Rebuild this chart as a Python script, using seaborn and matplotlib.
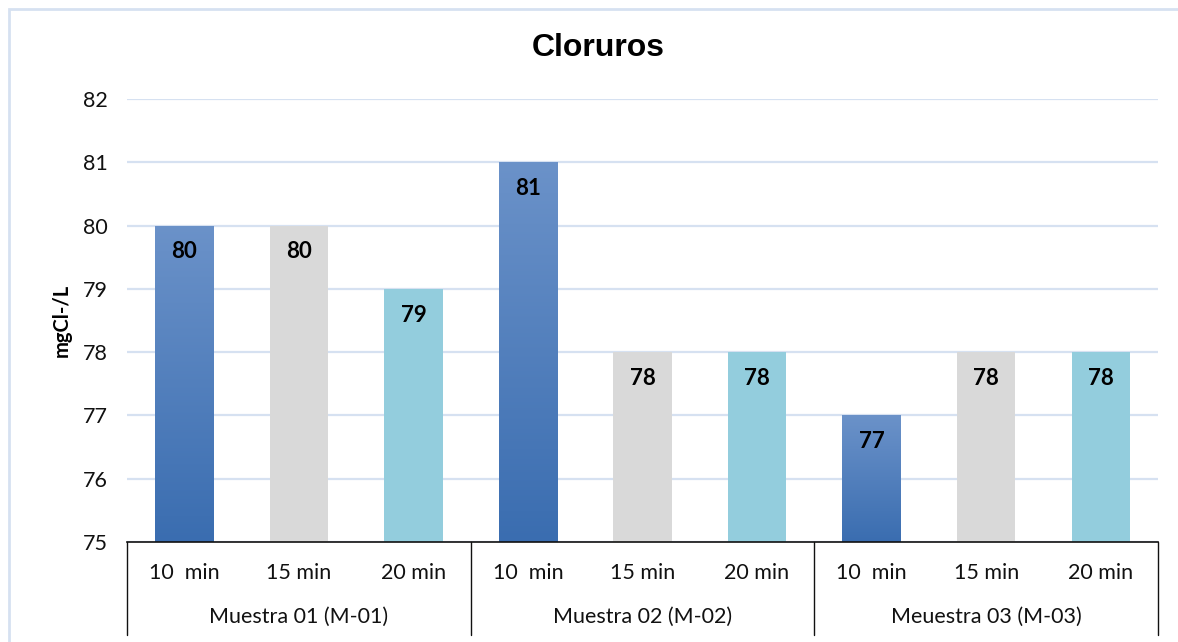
import numpy as np
import pandas as pd
import matplotlib
matplotlib.use("Agg")
import matplotlib.pyplot as plt
from matplotlib.colors import LinearSegmentedColormap
from matplotlib.patches import Rectangle
import seaborn as sns

# Chloride concentration per sample and contact time
muestras = ["Muestra 01 (M-01)", "Muestra 02 (M-02)", "Meuestra 03 (M-03)"]
tiempos = ["10  min", "15 min", "20 min"]
valores_m01 = [80, 80, 79]
valores_m02 = [81, 78, 78]
valores_m03 = [77, 78, 78]
y_ticks = [75, 76, 77, 78, 79, 80, 81, 82]

titulo = "Cloruros"
eje_y = "mgCl-/L"

colores = {"10  min": "#4a7cbd", "15 min": "#d9d9d9", "20 min": "#93cddd"}

rows = []
for m, vals in zip(muestras, [valores_m01, valores_m02, valores_m03]):
    for t, v in zip(tiempos, vals):
        rows.append({"muestra": m, "tiempo": t, "valor": v, "pos": f"{m}|{t}"})
df = pd.DataFrame(rows)

sns.set_theme(style="white")
plt.rcParams["font.family"] = ["Lato", "DejaVu Sans"]
plt.rcParams["text.color"] = "black"

TXT = "#111111"

fig = plt.figure(figsize=(11.78, 6.42), dpi=100)
ax = fig.add_axes([127 / 1178, 1 - 542 / 642, (1158 - 127) / 1178, (542 - 99) / 642])

sns.barplot(data=df, x="pos", y="valor", hue="tiempo", palette=colores,
            dodge=False, width=0.51, legend=False, ax=ax, saturation=1,
            linewidth=0)

ax.set_ylim(75, 82)
ax.set_xlim(-0.5, len(df) - 0.5)
ax.set_yticks(y_ticks)
ax.set_yticklabels([str(t) for t in y_ticks], fontsize=15.5, color=TXT)
ax.tick_params(axis="y", length=0, pad=14)
ax.set_xticks([])
ax.set_xlabel("")
ax.set_ylabel("")
ax.grid(axis="y", color="#d6e1f1", linewidth=1.6, zorder=0)
ax.set_axisbelow(True)
for s in ["top", "right", "left"]:
    ax.spines[s].set_visible(False)
ax.spines["bottom"].set_color(TXT)
ax.spines["bottom"].set_linewidth(1.2)

# vertical gradient on the 10-minute bars
grad = LinearSegmentedColormap.from_list("azul", ["#3a6db0", "#6b92c9"])
blue_bars = [p for p in ax.patches if isinstance(p, Rectangle)
             and np.allclose(p.get_facecolor()[:3], matplotlib.colors.to_rgb(colores["10  min"]))]
for p in blue_bars:
    x0, w, h = p.get_x(), p.get_width(), p.get_height()
    img = np.linspace(0, 1, 256).reshape(-1, 1)
    im = ax.imshow(img, cmap=grad, origin="lower", aspect="auto",
                   extent=[x0, x0 + w, 75, h], zorder=p.get_zorder() + 0.1)
    im.set_clip_path(p)
ax.set_xlim(-0.5, len(df) - 0.5)
ax.set_ylim(75, 82)

# value labels inside the top of each bar
for i, v in enumerate(df["valor"]):
    ax.annotate(f"{v}", (i, v), xytext=(0, -19), textcoords="offset points",
                ha="center", va="center", fontsize=16, fontweight="bold",
                color="black", zorder=5)

# two-level category axis
tr = ax.get_xaxis_transform()
for i, t in enumerate(df["tiempo"]):
    ax.text(i, -0.07, t, transform=tr, ha="center", va="center",
            fontsize=15.5, color=TXT)
for g, m in enumerate(muestras):
    ax.text(g * 3 + 1, -0.169, m, transform=tr, ha="center", va="center",
            fontsize=15.5, color=TXT)
for b in [-0.5, 2.5, 5.5, 8.5]:
    ax.plot([b, b], [0, -0.21], transform=tr, color=TXT,
            linewidth=1.0, clip_on=False)

fig.text(598 / 1178, 1 - 48 / 642, titulo, ha="center", va="center",
         fontsize=23, fontweight="bold", color="black",
         family=["Liberation Sans", "DejaVu Sans"])
fig.text(62 / 1178, 1 - 320 / 642, eje_y, ha="center", va="center",
         rotation=90, fontsize=14.5, fontweight="bold", color="black")

# outer chart border
fig.patches.append(Rectangle((9 / 1178, -0.05), 1.2, 1 - 9 / 642 + 0.05,
                             transform=fig.transFigure, fill=False,
                             edgecolor="#d6e1f1", linewidth=2))

fig.savefig("out.png", dpi=100)
